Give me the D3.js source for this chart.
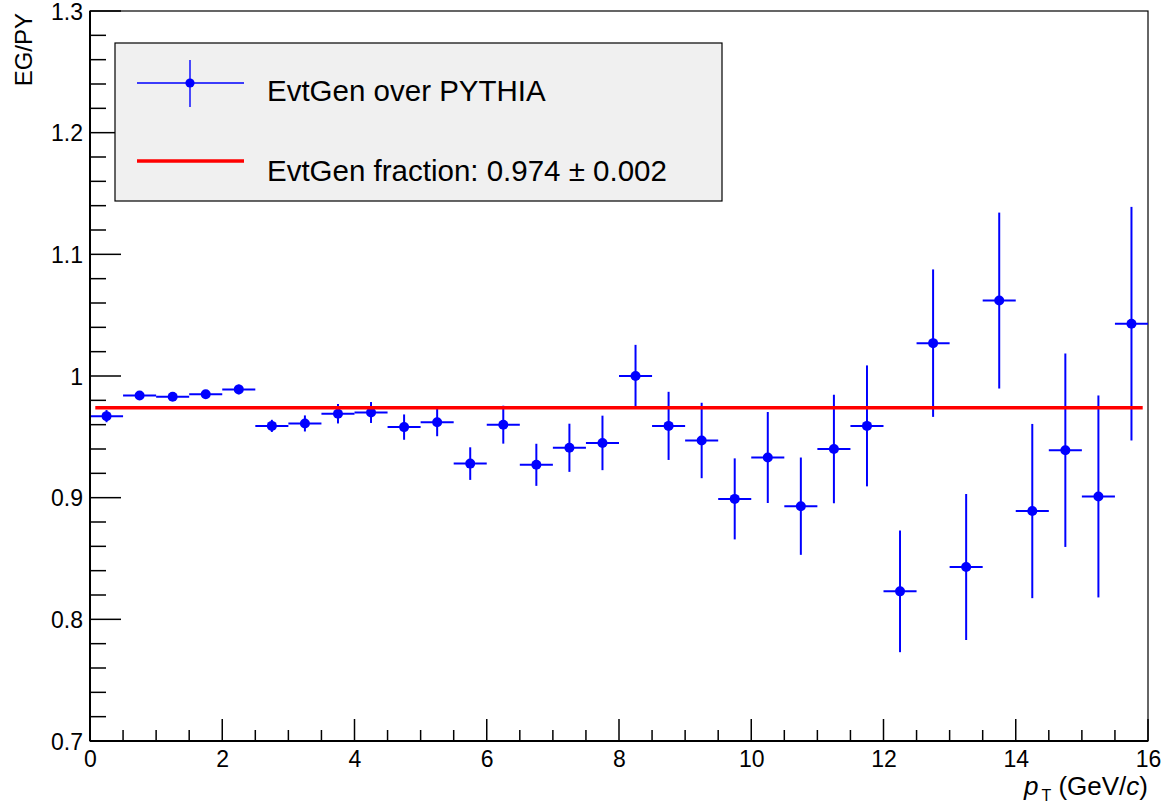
<!DOCTYPE html>
<html>
<head>
<meta charset="utf-8">
<script src="https://cdn.jsdelivr.net/npm/d3@7"></script>
<style>
  html, body { margin: 0; padding: 0; background: #ffffff; }
  svg { display: block; }
  text { font-family: "Liberation Sans", Arial, Helvetica, sans-serif; fill: #000; }
</style>
</head>
<body>
<svg id="chart" width="1170" height="806"></svg>
<script>
// ---------- data ----------
const binCenters = [0.25, 0.75, 1.25, 1.75, 2.25, 2.75, 3.25, 3.75, 4.25, 4.75, 5.25, 5.75,
  6.25, 6.75, 7.25, 7.75, 8.25, 8.75, 9.25, 9.75, 10.25, 10.75, 11.25, 11.75,
  12.25, 12.75, 13.25, 13.75, 14.25, 14.75, 15.25, 15.75];
const binHalfWidth = 0.25;
const ratioValues = [0.967, 0.984, 0.983, 0.985, 0.989, 0.959, 0.961, 0.969, 0.970, 0.958, 0.962, 0.928,
  0.960, 0.927, 0.941, 0.945, 1.000, 0.959, 0.947, 0.899, 0.933, 0.893, 0.940, 0.959,
  0.823, 1.027, 0.843, 1.062, 0.889, 0.939, 0.901, 1.043];
const ratioErrors = [0.005, 0.003, 0.003, 0.003, 0.004, 0.005, 0.0066, 0.008, 0.0086, 0.0104, 0.0115, 0.0134,
  0.0156, 0.0173, 0.0198, 0.0224, 0.0256, 0.028, 0.031, 0.0333, 0.0374, 0.040, 0.0446, 0.0497,
  0.050, 0.0606, 0.060, 0.0723, 0.0716, 0.0795, 0.083, 0.096];
const fitValue = 0.974;
const fitError = 0.002;
const fitRange = [0.08, 15.92];
const xDomain = [0, 16];
const yDomain = [0.7, 1.3];
const xMajorTicks = [0, 2, 4, 6, 8, 10, 12, 14, 16];
const yMajorTicks = [0.7, 0.8, 0.9, 1.0, 1.1, 1.2, 1.3];
const yTickLabels = ["0.7", "0.8", "0.9", "1", "1.1", "1.2", "1.3"];
const legendLabels = ["EvtGen over PYTHIA", "EvtGen fraction: " + fitValue.toFixed(3) + " \u00B1 " + fitError.toFixed(3)];

// ---------- layout ----------
const frame = { left: 90, right: 1148, top: 11, bottom: 741 };
const svg = d3.select("#chart");
const x = d3.scaleLinear().domain(xDomain).range([frame.left, frame.right]);
const y = d3.scaleLinear().domain(yDomain).range([frame.bottom, frame.top]);

const blue = "#0000ff", red = "#ff0000";

// frame
svg.append("rect")
  .attr("x", frame.left).attr("y", frame.top)
  .attr("width", frame.right - frame.left).attr("height", frame.bottom - frame.top)
  .attr("fill", "none").attr("stroke", "#000").attr("stroke-width", 1.2);

// data points
const pts = binCenters.map((c, i) => ({ x: c, v: ratioValues[i], e: ratioErrors[i] }));
const g = svg.append("g");
g.selectAll("line.xerr").data(pts).enter().append("line")
  .attr("x1", d => x(d.x - binHalfWidth)).attr("x2", d => x(d.x + binHalfWidth))
  .attr("y1", d => y(d.v)).attr("y2", d => y(d.v))
  .attr("stroke", blue).attr("stroke-width", 2);
g.selectAll("line.yerr").data(pts).enter().append("line")
  .attr("x1", d => x(d.x)).attr("x2", d => x(d.x))
  .attr("y1", d => y(d.v - d.e)).attr("y2", d => y(d.v + d.e))
  .attr("stroke", blue).attr("stroke-width", 2);
g.selectAll("circle").data(pts).enter().append("circle")
  .attr("cx", d => x(d.x)).attr("cy", d => y(d.v)).attr("r", 5)
  .attr("fill", blue);

// fit line
svg.append("line")
  .attr("x1", x(fitRange[0])).attr("x2", x(fitRange[1]))
  .attr("y1", y(fitValue)).attr("y2", y(fitValue))
  .attr("stroke", red).attr("stroke-width", 3.5);

// axes
const xMinor = d3.range(xDomain[0], xDomain[1] + 1e-9, 0.5);
const yMinor = d3.range(0, 31).map(i => yDomain[0] + i * 0.02);

const xAxis = d3.axisBottom(x).tickValues(xMajorTicks).tickSize(0).tickPadding(0)
  .tickFormat(d3.format("d"));
const xg = svg.append("g").attr("transform", `translate(0,${frame.bottom})`).call(xAxis);
xg.select(".domain").remove();
xg.selectAll("text").attr("font-size", 23).attr("dy", null).attr("y", 26)
  .style("font-family", "'Liberation Sans', Arial, sans-serif");
svg.append("g").selectAll("line").data(xMinor).enter().append("line")
  .attr("x1", d => x(d)).attr("x2", d => x(d))
  .attr("y1", frame.bottom)
  .attr("y2", d => frame.bottom - (Math.abs(d % 2) < 1e-9 ? 22 : 11))
  .attr("stroke", "#000").attr("stroke-width", 1.5);

const yAxis = d3.axisLeft(y).tickValues(yMajorTicks).tickSize(0).tickPadding(0)
  .tickFormat((d, i) => yTickLabels[i]);
const yg = svg.append("g").attr("transform", `translate(${frame.left},0)`).call(yAxis);
yg.select(".domain").remove();
yg.selectAll("text").attr("font-size", 23).attr("x", -7).attr("dy", "0.36em")
  .style("font-family", "'Liberation Sans', Arial, sans-serif");
svg.append("g").selectAll("line").data(yMinor).enter().append("line")
  .attr("x1", frame.left)
  .attr("x2", (d, i) => frame.left + (i % 5 === 0 ? 31 : 16))
  .attr("y1", d => y(d)).attr("y2", d => y(d))
  .attr("stroke", "#000").attr("stroke-width", 1.5);

// axis lines
svg.append("line").attr("x1", frame.left).attr("x2", frame.right)
  .attr("y1", frame.bottom).attr("y2", frame.bottom).attr("stroke", "#000").attr("stroke-width", 2);
svg.append("line").attr("x1", frame.left).attr("x2", frame.left)
  .attr("y1", frame.top).attr("y2", frame.bottom).attr("stroke", "#000").attr("stroke-width", 2);

// axis titles
svg.append("text")
  .attr("transform", `translate(32,${frame.top + 2}) rotate(-90)`)
  .attr("text-anchor", "end").attr("font-size", 24)
  .text("EG/PY");

const xt = svg.append("text")
  .attr("x", frame.right).attr("y", 795)
  .attr("text-anchor", "end").attr("font-size", 26);
xt.append("tspan").attr("font-style", "italic").text("p");
xt.append("tspan").attr("font-size", 16).attr("dy", 6).attr("dx", 3).text("T");
xt.append("tspan").attr("dy", -6).attr("dx", 0).text(" (GeV/");
xt.append("tspan").attr("font-style", "italic").text("c");
xt.append("tspan").text(")");

// legend
const leg = { x: 115, y: 43, w: 607, h: 158 };
svg.append("rect").attr("x", leg.x).attr("y", leg.y).attr("width", leg.w).attr("height", leg.h)
  .attr("fill", "#f0f0f0").attr("stroke", "#000").attr("stroke-width", 1.2);
const row1 = 83, row2 = 161;
svg.append("line").attr("x1", 137).attr("x2", 244).attr("y1", row1).attr("y2", row1)
  .attr("stroke", blue).attr("stroke-width", 1.4);
svg.append("line").attr("x1", 190).attr("x2", 190).attr("y1", 60).attr("y2", 107)
  .attr("stroke", blue).attr("stroke-width", 1.4);
svg.append("circle").attr("cx", 190).attr("cy", row1).attr("r", 4.6).attr("fill", blue);
svg.append("line").attr("x1", 137).attr("x2", 244).attr("y1", row2).attr("y2", row2)
  .attr("stroke", red).attr("stroke-width", 3.5);
svg.append("text").attr("x", 267).attr("y", 101).attr("font-size", 29.5).text(legendLabels[0]);
svg.append("text").attr("x", 267).attr("y", 181).attr("font-size", 29.5).text(legendLabels[1]);
</script>
</body>
</html>
